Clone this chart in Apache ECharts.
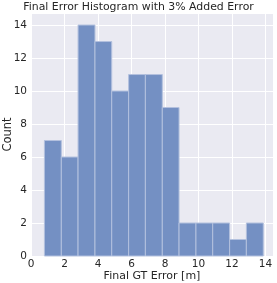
<!DOCTYPE html>
<html><head><meta charset="utf-8">
<script src="https://cdn.jsdelivr.net/npm/echarts@6/dist/echarts.min.js"></script>
<style>html,body{margin:0;padding:0;background:#fff}#c{width:277px;height:283px}</style>
</head><body><div id="c"></div>
<script>
const binEdges = [0.80, 1.81, 2.81, 3.82, 4.82, 5.83, 6.83, 7.84, 8.84, 9.85, 10.85, 11.86, 12.86, 13.87];
const counts = [7, 6, 14, 13, 10, 11, 11, 9, 2, 2, 2, 1, 2];
const xTicks = [0, 2, 4, 6, 8, 10, 12, 14];
const yTicks = [0, 2, 4, 6, 8, 10, 12, 14];
const titleText = 'Final Error Histogram with 3% Added Error';
const xLabel = 'Final GT Error [m]';
const yLabel = 'Count';

const data = counts.map((c, i) => [binEdges[i], binEdges[i + 1], c]);
const chart = echarts.init(document.getElementById('c'), null, {renderer: 'canvas'});
const font = 'DejaVu Sans';
chart.setOption({
  animation: false,
  backgroundColor: '#ffffff',
  title: {text: titleText, left: 'center', top: 0, padding: [2, 0, 0, 28],
    textStyle: {fontFamily: font, fontSize: 10.9, fontWeight: 'normal', color: '#262626'}},
  grid: {left: 31, right: 4, top: 13, bottom: 27, show: true, backgroundColor: '#EAEAF2', borderWidth: 0,
    containLabel: false, outerBoundsMode: 'none'},
  xAxis: {type: 'value', min: 0, max: 14.45, interval: 2,
    name: xLabel, nameLocation: 'middle', nameGap: 15, nameMoveOverlap: false,
    nameTextStyle: {fontFamily: font, fontSize: 11, color: '#262626'},
    axisLine: {show: false}, axisTick: {show: false},
    axisLabel: {fontFamily: font, fontSize: 10.5, color: '#262626', margin: 3, showMaxLabel: true,
      formatter: v => xTicks.includes(v) ? String(v) : ''},
    splitLine: {show: true, lineStyle: {color: '#ffffff', width: 1}}},
  yAxis: {type: 'value', min: 0, max: 14.73, interval: 2,
    name: yLabel, nameLocation: 'middle', nameGap: 17, nameRotate: 90, nameMoveOverlap: false,
    nameTextStyle: {fontFamily: font, fontSize: 11.5, color: '#262626'},
    axisLine: {show: false}, axisTick: {show: false},
    axisLabel: {fontFamily: font, fontSize: 10.5, color: '#262626', margin: 4,
      formatter: v => yTicks.includes(v) ? String(v) : ''},
    splitLine: {show: true, lineStyle: {color: '#ffffff', width: 1}}},
  series: [{
    type: 'custom',
    data: data,
    encode: {x: [0, 1], y: 2},
    renderItem: function (params, api) {
      const p0 = api.coord([api.value(0), api.value(2)]);
      const p1 = api.coord([api.value(1), 0]);
      return {type: 'rect',
        shape: {x: p0[0], y: p0[1], width: p1[0] - p0[0], height: p1[1] - p0[1]},
        style: {fill: '#7490C3', stroke: '#B3C1DE', lineWidth: 1}};
    }
  }]
});
</script></body></html>
